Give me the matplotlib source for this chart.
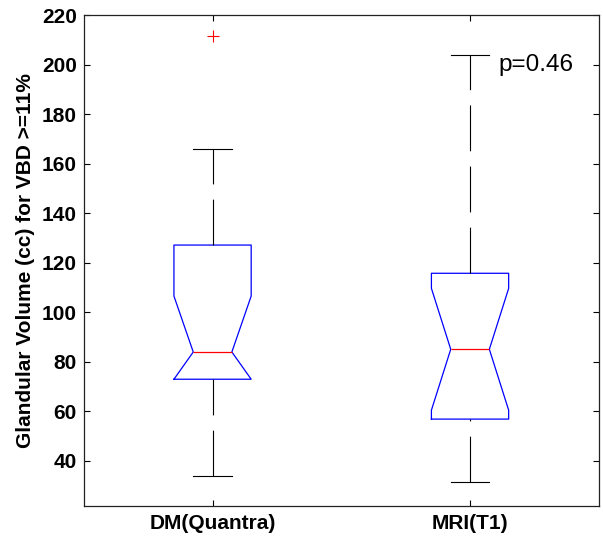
import matplotlib
matplotlib.use("Agg")
import matplotlib.pyplot as plt

plt.rcParams['font.family'] = ['Liberation Sans', 'DejaVu Sans']
plt.rcParams['lines.scale_dashes'] = False

# summary statistics for each method (cc)
labels = ["DM(Quantra)", "MRI(T1)"]
whisker_lo = [33.9, 31.4]
q1 = [72.9, 56.8]
median = [83.9, 85.0]
q3 = [127.1, 115.7]
whisker_hi = [165.9, 203.8]
notch_hi = [106.5, 109.6]
outliers = [[211.5], []]
p_text = "p=0.46"

stats = []
for i, lab in enumerate(labels):
    half = notch_hi[i] - median[i]
    stats.append({
        "label": lab,
        "whislo": whisker_lo[i],
        "q1": q1[i],
        "med": median[i],
        "q3": q3[i],
        "whishi": whisker_hi[i],
        # notch is cut off where it runs past the box
        "cilo": max(median[i] - half, q1[i]),
        "cihi": min(notch_hi[i], q3[i]),
        "fliers": outliers[i],
    })

fig = plt.figure(figsize=(6.03, 5.38), dpi=100)
ax = fig.add_axes([0.139, 0.0595, 0.854, 0.9125])

dash = (0, (33, 11))
art = ax.bxp(stats, positions=[1, 2], widths=0.3, shownotches=True,
             boxprops={"color": "blue", "linewidth": 0.9},
             medianprops={"color": "red", "linewidth": 0.9},
             whiskerprops={"color": "black", "linewidth": 0.8, "linestyle": dash},
             capprops={"color": "black", "linewidth": 0.8},
             flierprops={"marker": "+", "markeredgecolor": "red",
                         "markersize": 8, "markeredgewidth": 0.8,
                         "linestyle": "none"})

# lower whiskers run from the cap up to the box
for w in art["whiskers"][0::2]:
    x, y = w.get_data()
    w.set_data(x[::-1], y[::-1])

ax.set_xlim(0.5, 2.5)
ax.set_ylim(21.7, 220)
ax.set_yticks(range(40, 221, 20))

ax.text(2.11, 200, p_text, fontsize=17.5, va="center", ha="left")

ax.set_ylabel("Glandular Volume (cc) for VBD >=11%", fontsize=15,
              fontweight="bold", labelpad=5)
ax.tick_params(direction="in", length=4, width=0.8, top=True, right=True,
               labelsize=15)
ax.tick_params(axis="x", pad=6)
ax.tick_params(axis="y", pad=5)
for lab in ax.get_xticklabels() + ax.get_yticklabels():
    lab.set_fontweight("bold")
for sp in ax.spines.values():
    sp.set_linewidth(0.9)
    sp.set_color("#222222")

fig.savefig("out.png", dpi=100)
